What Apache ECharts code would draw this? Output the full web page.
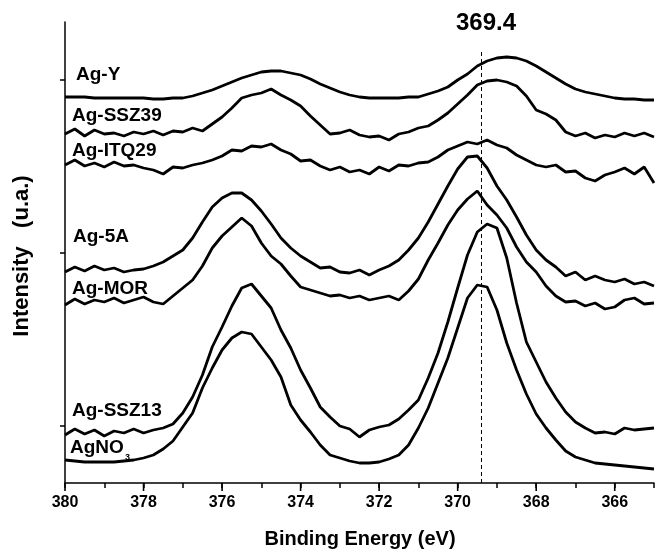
<!DOCTYPE html>
<html><head><meta charset="utf-8">
<script src="https://cdn.jsdelivr.net/npm/echarts@6/dist/echarts.min.js"></script>
<style>html,body{margin:0;padding:0;background:#fff}#c{width:657px;height:551px}</style>
</head><body><div id="c"></div>
<script>
// Binding energy grid (eV), 0.25 eV steps from 380 down to 365
const energy = [380,379.75,379.5,379.25,379,378.75,378.5,378.25,378,377.75,
  377.5,377.25,377,376.75,376.5,376.25,376,375.75,375.5,375.25,
  375,374.75,374.5,374.25,374,373.75,373.5,373.25,373,372.75,
  372.5,372.25,372,371.75,371.5,371.25,371,370.75,370.5,370.25,
  370,369.75,369.5,369.25,369,368.75,368.5,368.25,368,367.75,
  367.5,367.25,367,366.75,366.5,366.25,366,365.75,365.5,365.25,365];

// Stacked (offset) intensities, arbitrary units
const agY = [386,386,386,385,385,385,385,385,385,384, 384,385,385,387,390,393,397,401,405,408,
  411,412,412,410,408,404,399,395,391,388, 386,385,385,385,385,386,386,389,392,396,
  403,409,417,422,425,426,425,422,417,411, 405,399,394,391,389,387,385,384,384,383, 383];
const agSSZ39 = [349,354,347,353,349,350,347,351,349,352, 348,352,351,355,352,359,366,375,385,388,
  390,394,388,383,377,367,358,349,350,353, 348,346,347,343,349,351,355,357,363,370,
  379,388,398,402,403,401,397,387,373,369, 363,351,347,350,345,348,346,350,347,350, 346];
const agITQ29 = [318,323,317,320,316,321,317,318,315,313, 309,316,315,318,320,323,327,333,332,337,
  336,339,333,329,322,323,317,313,316,311, 313,309,316,312,318,317,320,321,326,333,
  337,341,339,343,338,335,328,323,318,316, 318,311,312,305,302,308,311,315,309,316, 300];
const ag5A = [211,216,212,217,213,215,211,213,214,217, 221,227,233,245,261,276,285,290,290,283,
  272,259,245,235,227,221,215,216,211,210, 213,208,213,217,223,233,245,261,279,297,
  314,326,327,315,297,283,266,248,233,223, 216,207,211,203,207,203,201,204,199,201, 197];
const agMOR = [178,184,179,183,181,185,180,183,186,181, 179,187,195,203,217,235,247,256,265,257,
  240,227,219,207,196,193,190,187,188,185, 187,183,185,187,183,192,204,223,240,258,
  273,284,292,278,268,255,236,221,211,197, 187,181,182,177,180,174,176,183,185,179, 180];
const agSSZ13 = [48,54,49,53,47,52,50,54,50,53, 55,59,70,86,108,136,156,177,195,199,
  187,175,153,135,113,95,76,66,57,54, 46,53,56,58,64,73,83,105,130,161,
  195,228,251,259,255,225,180,141,121,101, 85,71,61,55,50,51,49,55,53,54, 55];
const agNO3 = [23,22,21,21,21,21,22,23,25,28, 34,42,56,70,95,115,133,145,151,149,
  136,123,106,78,63,51,38,28,25,22, 20,20,21,24,28,38,55,75,100,125,
  155,185,198,196,173,140,113,89,69,55, 43,32,26,23,20,19,18,17,16,15, 14];

const seriesNames = ['Ag-Y','Ag-SSZ39','Ag-ITQ29','Ag-5A','Ag-MOR','Ag-SSZ13','AgNO3'];
const seriesValues = [agY, agSSZ39, agITQ29, ag5A, agMOR, agSSZ13, agNO3];

const majorTicks = [380,378,376,374,372,370,368,366];
const yTicks = [57,230,403];
const refEnergy = 369.4;
const refTop = 431;

const FONT = '"Liberation Sans", Arial, Helvetica, sans-serif';

const chart = echarts.init(document.getElementById('c'), null, {renderer:'canvas'});

const series = seriesNames.map((n, k) => ({
  name: n,
  type: 'line',
  data: energy.map((e, i) => [e, seriesValues[k][i]]),
  showSymbol: false,
  symbol: 'none',
  smooth: false,
  lineStyle: {color: '#000', width: 2.8},
  z: 3
}));
series[series.length - 1].markLine = {
  silent: true,
  symbol: ['none','none'],
  label: {show: false},
  lineStyle: {color: '#000', width: 1, type: [4,3]},
  z: 2,
  data: [[{coord: [refEnergy, 0]}, {coord: [refEnergy, refTop]}]]
};

chart.setOption({
  animation: false,
  grid: {left: 65, right: 2, top: 22, bottom: 68},
  xAxis: {
    type: 'value', min: 365, max: 380, interval: 1, inverse: true,
    axisLine: {show: true, onZero: false, lineStyle: {color: '#000', width: 1.5}},
    axisTick: {show: true, length: 5, lineStyle: {color:'#000', width: 1.5}},
    axisLabel: {show: true, margin: 12, color: '#000', fontWeight: 'bold', fontSize: 16, fontFamily: FONT,
      formatter: v => (majorTicks.includes(v) ? String(v) : '')},
    splitLine: {show: false}
  },
  yAxis: {
    type: 'value', min: 0, max: 461,
    axisLine: {show: true, onZero: false, lineStyle: {color: '#000', width: 1.5}},
    axisTick: {show: true, length: 5, customValues: yTicks, lineStyle: {color:'#000', width: 1.5}},
    axisLabel: {show: false},
    splitLine: {show: false}
  },
  series: series
});

// graphics: curve labels, reference value, axis titles, longer major ticks placed via the axis scale
const labelPos = [[76,75],[72,116],[72,151],[73,237],[72,289],[72,411],[70,448]];
const labelTexts = ['Ag-Y','Ag-SSZ39','Ag-ITQ29','Ag-5A','Ag-MOR','Ag-SSZ13','AgNO'];
const graphics = labelTexts.map((t, i) => ({
  type: 'text', id: 'lab' + i, x: labelPos[i][0], y: labelPos[i][1], z: 10,
  style: {text: t, font: 'bold 19px ' + FONT, fill: '#000', align: 'left', verticalAlign: 'middle'}
}));
graphics.push({type:'text', id:'sub3', x:125, y:458, z:10,
  style:{text:'3', font:'bold 9px ' + FONT, fill:'#000', align:'left', verticalAlign:'middle'}});
graphics.push({type:'text', id:'ref', x:486, y:23.5, z:10,
  style:{text:String(refEnergy), font:'bold 24px ' + FONT, fill:'#000', align:'center', verticalAlign:'middle'}});
graphics.push({type:'text', id:'ytitle', x:22, y:256, rotation: Math.PI/2, z:10,
  style:{text:'Intensity   (u.a.)', font:'bold 22px ' + FONT, fill:'#000', align:'center', verticalAlign:'middle'}});
graphics.push({type:'text', id:'xtitle', x:360, y:539, z:10,
  style:{text:'Binding Energy (eV)', font:'bold 20px ' + FONT, fill:'#000', align:'center', verticalAlign:'middle'}});

const axisY = chart.convertToPixel({yAxisIndex: 0}, 0);
majorTicks.forEach((v, i) => {
  const px = chart.convertToPixel({xAxisIndex: 0}, v);
  graphics.push({type:'line', id:'xt' + i, z: 100,
    shape:{x1: px, y1: axisY, x2: px, y2: axisY + 8},
    style:{stroke:'#000', lineWidth: 1.6}});
});
chart.setOption({graphic: graphics});
</script></body></html>
